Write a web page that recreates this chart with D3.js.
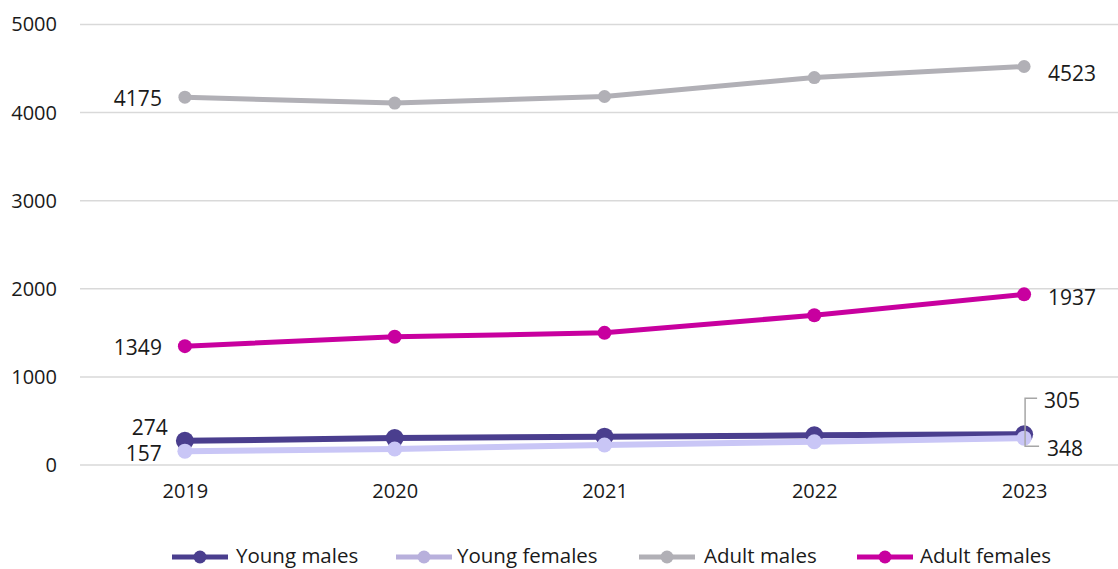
<!DOCTYPE html>
<html>
<head>
<meta charset="utf-8">
<script src="https://cdn.jsdelivr.net/npm/d3@7"></script>
<style>
  html, body { margin: 0; padding: 0; background: #fff; }
  svg { display: block; font-family: "Open Sans", "Noto Sans", sans-serif; }
</style>
</head>
<body>
<svg id="chart" width="1118" height="569"></svg>
<script>
// Yearly counts by group
const years = ["2019", "2020", "2021", "2022", "2023"];
const youngMales = [274, 306, 321, 337, 348];
const youngFemales = [157, 181, 227, 264, 305];
const adultMales = [4175, 4108, 4183, 4398, 4523];
const adultFemales = [1349, 1455, 1500, 1700, 1937];
const yTicks = [0, 1000, 2000, 3000, 4000, 5000];

const seriesNames = ["Young males", "Young females", "Adult males", "Adult females"];
const seriesColors = ["#4a3e8e", "#c9c6f6", "#b1b0b6", "#c8009f"];
const legendColors = ["#4a3e8e", "#b8b0dc", "#b1b0b6", "#c8009f"];

const series = [
  { name: seriesNames[2], values: adultMales, color: seriesColors[2], width: 5, r: 6.5 },
  { name: seriesNames[3], values: adultFemales, color: seriesColors[3], width: 5, r: 7 },
  { name: seriesNames[0], values: youngMales, color: seriesColors[0], width: 6, r: 9 },
  { name: seriesNames[1], values: youngFemales, color: seriesColors[1], width: 6, r: 7.5 }
];

const svg = d3.select("#chart");
const W = 1118;

const x = d3.scalePoint().domain(years).range([80, 1129]).padding(0.5);
const y = d3.scaleLinear().domain([0, 5000]).range([465, 24.5]);

// Horizontal gridlines
svg.append("g").selectAll("line").data(yTicks).join("line")
  .attr("x1", 80).attr("x2", W)
  .attr("y1", d => y(d)).attr("y2", d => y(d))
  .attr("stroke", "#d9d9d9").attr("stroke-width", 1.5);

// Y axis tick labels
const yAxis = d3.axisLeft(y).tickValues(yTicks).tickSize(0).tickPadding(0).tickFormat(d3.format("d"));
const gy = svg.append("g").attr("transform", "translate(57,0)").call(yAxis);
gy.select(".domain").remove();
gy.selectAll("text").attr("font-size", 20).attr("fill", "#1a1a1a")
  .attr("font-family", "'Open Sans', 'Noto Sans', sans-serif");

// X axis year labels
const xAxis = d3.axisBottom(x).tickSize(0).tickPadding(0);
const gx = svg.append("g").attr("transform", "translate(0,484)").call(xAxis);
gx.select(".domain").remove();
gx.selectAll("text").attr("font-size", 20).attr("fill", "#1a1a1a")
  .attr("font-family", "'Open Sans', 'Noto Sans', sans-serif");

// Lines and markers
const line = d3.line().x((d, i) => x(years[i])).y(d => y(d));
series.forEach(s => {
  const g = svg.append("g");
  g.append("path").datum(s.values)
    .attr("d", line).attr("fill", "none")
    .attr("stroke", s.color).attr("stroke-width", s.width)
    .attr("stroke-linejoin", "round");
  g.selectAll("circle").data(s.values).join("circle")
    .attr("cx", (d, i) => x(years[i])).attr("cy", d => y(d))
    .attr("r", s.r).attr("fill", s.color);
});

// Value labels on the first and last points
const lab = svg.append("g").attr("font-size", 21).attr("fill", "#1a1a1a");
function label(txt, xx, yy, anchor) {
  lab.append("text").attr("x", xx).attr("y", yy)
    .attr("text-anchor", anchor).attr("dominant-baseline", "central").text(txt);
}
const x0 = x(years[0]), x4 = x(years[4]);
label(adultMales[0], x0 - 23, y(adultMales[0]) + 1, "end");
label(adultMales[4], x4 + 24, y(adultMales[4]) + 6, "start");
label(adultFemales[0], x0 - 23, y(adultFemales[0]) + 1, "end");
label(adultFemales[4], x4 + 24, y(adultFemales[4]) + 3, "start");
label(youngMales[0], x0 - 17, y(youngMales[0]) - 14, "end");
label(youngFemales[0], x0 - 23, y(youngFemales[0]) + 2, "end");
label(youngFemales[4], x4 + 20, y(youngFemales[4]) - 38, "start");
label(youngMales[4], x4 + 23, y(youngMales[4]) + 14, "start");

// Leader bracket joining the two stacked labels at 2023
const bx = x4 + 1;
svg.append("path")
  .attr("d", `M${bx + 12},${y(youngFemales[4]) - 40} H${bx} V${y(youngMales[4]) + 12} H${bx + 14}`)
  .attr("fill", "none").attr("stroke", "#a6a6a6").attr("stroke-width", 1.5);

// Legend
const legendItems = [
  { lx: 172, tx: 236 },
  { lx: 396, tx: 457 },
  { lx: 639, tx: 704 },
  { lx: 857, tx: 920 }
];
const lg = svg.append("g");
seriesNames.forEach((n, i) => {
  const it = legendItems[i];
  lg.append("line").attr("x1", it.lx).attr("x2", it.lx + 56)
    .attr("y1", 557).attr("y2", 557)
    .attr("stroke", legendColors[i]).attr("stroke-width", 5);
  lg.append("circle").attr("cx", it.lx + 28).attr("cy", 557).attr("r", 6.5)
    .attr("fill", legendColors[i]);
  lg.append("text").attr("x", it.tx).attr("y", 563)
    .attr("font-size", 20.5).attr("fill", "#1a1a1a").text(n);
});
</script>
</body>
</html>
